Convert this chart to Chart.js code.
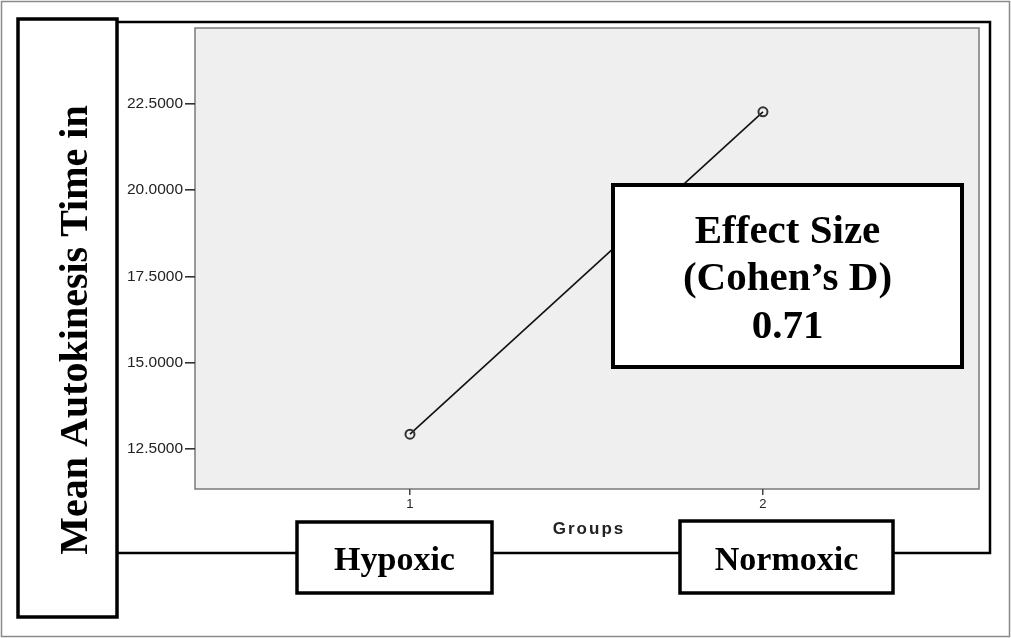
<!DOCTYPE html>
<html>
<head>
<meta charset="utf-8">
<script src="https://cdn.jsdelivr.net/npm/chart.js@4/dist/chart.umd.min.js"></script>
<style>
  html, body { margin: 0; padding: 0; background: #fff; }
  canvas { display: block; }
</style>
</head>
<body>
<canvas id="canvas" width="1011" height="638"></canvas>
<script>
// data
var groups = [1, 2];
var meanTimes = [12.93, 22.27];
var yTicks = [12.5, 15, 17.5, 20, 22.5];
var xTicks = [1, 2];
var groupNames = ['Hypoxic', 'Normoxic'];
var yTitle = 'Mean Autokinesis Time in';
var xTitle = 'Groups';
var effectLines = ['Effect Size', '(Cohen\u2019s D)', '0.71'];

var serif = '"Liberation Serif", "Times New Roman", serif';
var sans = '"Liberation Sans", Arial, sans-serif';

function boxAt(ctx, x, y, w, h, lw) {
  ctx.fillStyle = '#fff';
  ctx.fillRect(x, y, w, h);
  ctx.strokeStyle = '#000';
  ctx.lineWidth = lw;
  ctx.strokeRect(x, y, w, h);
}

var framePlugin = {
  id: 'frame',
  beforeDraw: function(chart) {
    var ctx = chart.ctx, a = chart.chartArea;
    ctx.save();
    ctx.fillStyle = '#fff';
    ctx.fillRect(0, 0, chart.width, chart.height);
    // thin grey outer border
    ctx.strokeStyle = '#8a8a8a';
    ctx.lineWidth = 1.5;
    ctx.strokeRect(1.5, 1.5, chart.width - 3, chart.height - 3);
    // big black frame round the plot
    ctx.strokeStyle = '#000';
    ctx.lineWidth = 2.5;
    ctx.beginPath();
    ctx.moveTo(117, 22);
    ctx.lineTo(990, 22);
    ctx.lineTo(990, 553);
    ctx.lineTo(117, 553);
    ctx.stroke();
    // plot background
    ctx.fillStyle = '#efefef';
    ctx.fillRect(a.left, a.top, a.right - a.left, a.bottom - a.top);
    ctx.strokeStyle = '#7a7a7a';
    ctx.lineWidth = 1.5;
    ctx.strokeRect(a.left, a.top, a.right - a.left, a.bottom - a.top);
    ctx.restore();
  },
  afterDraw: function(chart) {
    var ctx = chart.ctx;
    ctx.save();
    // left box with the y title
    boxAt(ctx, 18, 19, 99, 598, 3.5);
    ctx.save();
    ctx.translate(87, 330);
    ctx.rotate(-Math.PI / 2);
    ctx.fillStyle = '#000';
    ctx.font = 'bold 40px ' + serif;
    ctx.textAlign = 'center';
    ctx.textBaseline = 'alphabetic';
    ctx.fillText(yTitle, 0, 0);
    ctx.restore();

    // x title
    ctx.save();
    ctx.fillStyle = '#222';
    ctx.font = 'bold 17px ' + sans;
    ctx.letterSpacing = '2px';
    ctx.textAlign = 'center';
    ctx.textBaseline = 'middle';
    ctx.fillText(xTitle, 589, 529);
    ctx.restore();

    // group name boxes
    var boxes = [[297, 522, 195, 71], [680, 521, 213, 72]];
    ctx.font = 'bold 34px ' + serif;
    ctx.textAlign = 'center';
    ctx.textBaseline = 'alphabetic';
    for (var i = 0; i < groupNames.length; i++) {
      var b = boxes[i];
      boxAt(ctx, b[0], b[1], b[2], b[3], 3.5);
      ctx.fillStyle = '#000';
      ctx.fillText(groupNames[i], b[0] + b[2] / 2, 570);
    }

    // effect size box
    boxAt(ctx, 613, 185, 349, 182, 4);
    ctx.fillStyle = '#000';
    ctx.font = 'bold 41px ' + serif;
    var base = [243, 290, 338];
    for (var j = 0; j < effectLines.length; j++) {
      ctx.fillText(effectLines[j], 787.5, base[j]);
    }
    ctx.restore();
  }
};

var points = groups.map(function(g, i) { return { x: g, y: meanTimes[i] }; });

var ctx = document.getElementById('canvas').getContext('2d');
window.myChart = new Chart(ctx, {
  type: 'line',
  data: {
    datasets: [{
      data: points,
      borderColor: '#111',
      borderWidth: 1.6,
      pointRadius: 4.5,
      pointBorderWidth: 2,
      pointBorderColor: '#333',
      pointBackgroundColor: 'rgba(0,0,0,0)',
      tension: 0
    }]
  },
  options: {
    responsive: false,
    devicePixelRatio: 1,
    animation: false,
    layout: { padding: { left: 0, top: 28, right: 32, bottom: 0 } },
    plugins: {
      legend: { display: false },
      tooltip: { enabled: false }
    },
    scales: {
      x: {
        type: 'linear',
        min: 0.391,
        max: 2.612,
        afterBuildTicks: function(scale) {
          scale.ticks = xTicks.map(function(v) { return { value: v }; });
        },
        afterFit: function(scale) { scale.height = 149; },
        grid: { drawOnChartArea: false, tickLength: 6, color: '#444', lineWidth: 1.5 },
        border: { display: false },
        ticks: {
          font: { family: sans, size: 13 },
          color: '#222',
          padding: 2,
          maxRotation: 0
        }
      },
      y: {
        min: 11.34,
        max: 24.7,
        afterBuildTicks: function(scale) {
          scale.ticks = yTicks.map(function(v) { return { value: v }; });
        },
        afterFit: function(scale) { scale.width = 195; },
        grid: { drawOnChartArea: false, tickLength: 10, color: '#333', lineWidth: 1.6 },
        border: { display: false },
        ticks: {
          font: { family: sans, size: 15.5 },
          color: '#222',
          padding: 2,
          callback: function(v) { return v.toFixed(4); }
        }
      }
    }
  },
  plugins: [framePlugin]
});
</script>
</body>
</html>
